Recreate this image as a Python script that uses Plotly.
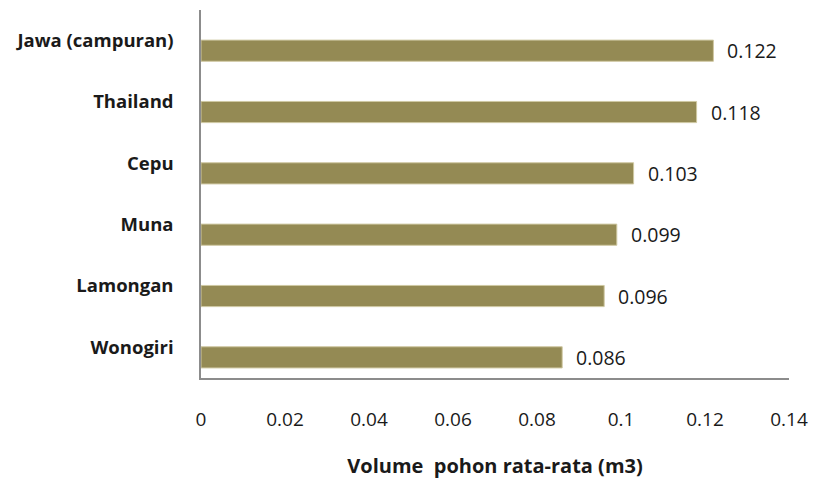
import plotly.graph_objects as go

categories = ["Jawa (campuran)", "Thailand", "Cepu", "Muna", "Lamongan", "Wonogiri"]
values = [0.122, 0.118, 0.103, 0.099, 0.096, 0.086]
value_labels = ["0.122", "0.118", "0.103", "0.099", "0.096", "0.086"]
x_title = "Volume  pohon rata-rata (m3)"

FONT = "Open Sans"
BAR = "#948A54"

fig = go.Figure()
fig.add_trace(go.Bar(
    x=values, y=categories, orientation="h",
    width=0.345, offset=-0.336,
    marker=dict(color=BAR, line=dict(color="#cfc8a2", width=1)),
    hoverinfo="skip",
))

for v, c, t in zip(values, categories, value_labels):
    fig.add_annotation(x=v, y=c, xref="x", yref="y", text=t, showarrow=False,
                       xanchor="left", yanchor="middle", xshift=12, yshift=-10,
                       font=dict(family=FONT, size=19.5, color="#1a1a1a"))

fig.update_layout(
    width=814, height=479,
    margin=dict(l=201, r=25, t=10, b=101),
    paper_bgcolor="white", plot_bgcolor="white",
    showlegend=False,
    font=dict(family=FONT, color="#1a1a1a"),
    xaxis=dict(range=[0, 0.14], dtick=0.02, tick0=0, showgrid=False, zeroline=False,
               showline=True, linecolor="#8c8c8c", linewidth=1.5,
               ticks="", ticklabelstandoff=23, automargin=False,
               tickfont=dict(family=FONT, size=19, color="#1a1a1a"),
               title=dict(text="<b>" + x_title + "</b>", standoff=29,
                          font=dict(family=FONT, size=20, color="#1a1a1a"))),
    yaxis=dict(categoryorder="array", categoryarray=categories[::-1],
               range=[-0.5, 5.5], showgrid=False, zeroline=False,
               showline=True, linecolor="#8c8c8c", linewidth=1.5,
               ticks="", ticklabelstandoff=22, automargin=False,
               tickfont=dict(family=FONT, size=18.5, color="#1a1a1a", weight="bold")),
)

fig.write_html("out.html", config={"displayModeBar": False},
               post_script="document.body.style.margin='0';")
